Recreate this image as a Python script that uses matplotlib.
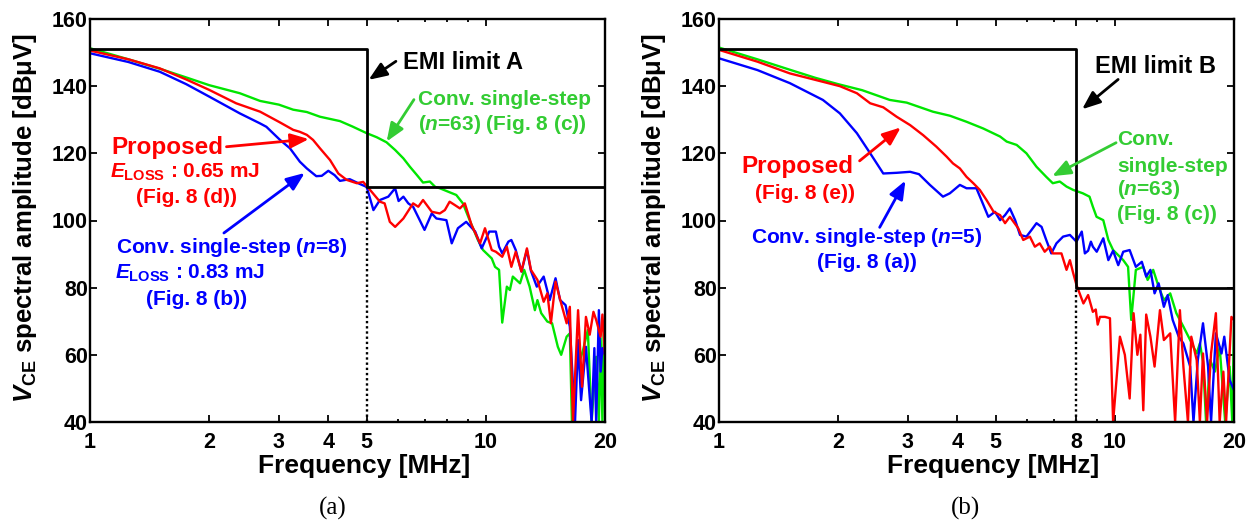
import matplotlib
matplotlib.use("Agg")
import matplotlib.pyplot as plt
from matplotlib.ticker import FixedLocator, NullFormatter

plt.rcParams['font.family'] = ['Liberation Sans', 'DejaVu Sans']
plt.rcParams['font.weight'] = 'bold'
plt.rcParams['mathtext.fontset'] = 'custom'
plt.rcParams['mathtext.rm'] = 'Liberation Sans:bold'
plt.rcParams['mathtext.it'] = 'Liberation Sans:italic:bold'
plt.rcParams['mathtext.bf'] = 'Liberation Sans:bold'

# ---- data: (frequency [MHz], amplitude [dBuV]) ----
green_a = [(1.0, 151.3), (1.25, 148.0), (1.5, 145.2), (1.75, 142.6), (2.0, 140.3), (2.39, 137.9),
           (2.69, 135.6), (3.0, 134.5), (3.26, 133.0), (3.53, 132.3), (3.81, 130.9), (4.28, 129.6),
           (4.6, 128.0), (5.0, 126.0), (5.3, 124.8), (5.61, 123.3), (5.9, 121.0), (6.19, 118.5),
           (6.43, 116.0), (6.7, 113.5), (6.94, 111.3), (7.22, 111.6), (7.45, 110.0), (7.65, 109.6),
           (8.1, 108.4), (8.42, 107.6), (8.75, 105.1), (9.1, 100.1), (9.55, 94.2), (9.84, 91.2),
           (10.35, 88.7), (10.55, 86.2), (10.8, 85.3), (11.0, 69.6), (11.3, 80.3), (11.5, 79.3),
           (11.7, 83.3), (12.2, 81.3), (12.5, 85.3), (12.9, 80.3), (13.3, 73.3), (13.5, 76.3),
           (13.8, 72.4), (14.3, 69.9), (14.7, 69.4), (15.2, 62.4), (15.5, 60.0), (16.0, 65.4),
           (16.3, 66.4), (16.5, 40.0), (16.9, 54.5), (17.6, 61.4), (18.1, 67.4), (18.5, 40.0),
           (19.0, 59.4), (19.3, 40.0), (19.5, 65.0), (19.7, 40.0), (19.85, 66.0), (20.0, 68.9)]

blue_a = [(1.0, 149.8), (1.25, 147.2), (1.5, 144.3), (1.75, 140.6), (2.0, 136.9), (2.39, 131.9),
          (2.69, 128.9), (2.79, 127.9), (3.02, 124.0), (3.2, 121.5), (3.39, 117.5), (3.53, 115.5),
          (3.73, 113.2), (3.85, 113.3), (4.0, 114.8), (4.15, 113.5), (4.28, 111.8), (4.53, 112.3),
          (4.8, 110.9), (5.0, 110.0), (5.2, 103.1), (5.4, 106.1), (5.67, 107.1), (5.9, 109.6),
          (6.02, 105.8), (6.19, 107.1), (6.37, 105.1), (6.55, 104.1), (7.0, 97.2), (7.3, 102.1),
          (7.5, 100.6), (7.95, 100.1), (8.2, 93.2), (8.5, 97.7), (8.92, 99.6), (9.4, 96.7),
          (9.76, 91.7), (10.2, 96.7), (10.6, 96.7), (10.8, 92.2), (11.0, 90.2), (11.4, 93.7),
          (11.6, 94.2), (11.9, 91.2), (12.3, 84.8), (12.7, 91.2), (13.0, 85.0), (13.45, 80.3),
          (14.0, 83.3), (14.5, 76.3), (15.0, 82.8), (15.4, 76.3), (15.9, 74.8), (16.3, 68.4),
          (16.8, 40.0), (17.1, 64.4), (17.4, 46.5), (17.9, 62.4), (18.5, 40.0), (18.8, 62.0),
          (19.0, 40.0), (19.3, 73.3), (19.5, 55.0), (19.7, 62.0), (20.0, 60.0)]

red_a = [(1.0, 150.6), (1.25, 148.0), (1.5, 145.3), (1.75, 142.0), (2.0, 138.9), (2.34, 134.9),
         (2.69, 132.4), (3.02, 129.2), (3.26, 127.0), (3.39, 126.4), (3.53, 125.5), (3.66, 124.0),
         (3.81, 121.5), (4.04, 118.0), (4.24, 114.0), (4.45, 112.1), (4.72, 111.1), (4.9, 111.5),
         (5.1, 109.1), (5.4, 105.6), (5.55, 105.1), (5.72, 99.6), (5.9, 98.1), (6.19, 100.6),
         (6.55, 105.1), (6.75, 104.1), (6.94, 106.1), (7.3, 102.6), (7.65, 102.1), (7.88, 103.1),
         (8.1, 105.6), (8.35, 104.6), (8.6, 103.6), (8.85, 105.1), (9.2, 98.7), (9.67, 93.2),
         (9.95, 97.7), (10.35, 91.2), (10.6, 90.7), (11.0, 89.2), (11.3, 92.2), (11.6, 86.2),
         (11.9, 90.7), (12.3, 84.8), (12.7, 91.7), (13.0, 85.3), (13.5, 82.3), (14.0, 75.8),
         (14.3, 78.3), (14.6, 69.4), (15.0, 81.8), (15.5, 75.3), (16.0, 69.4), (16.3, 74.3),
         (16.6, 40.0), (17.1, 73.3), (17.5, 50.5), (17.9, 71.3), (18.3, 66.0), (18.7, 72.8),
         (19.0, 70.4), (19.5, 65.4), (19.7, 72.0), (20.0, 60.0)]

green_b = [(1.0, 151.5), (1.25, 148.0), (1.5, 145.0), (1.75, 142.5), (2.0, 140.6), (2.3, 138.8),
           (2.7, 135.9), (2.98, 135.1), (3.28, 133.4), (3.47, 132.4), (3.83, 131.2), (4.22, 129.4),
           (4.65, 127.4), (5.13, 125.0), (5.33, 123.5), (5.65, 122.5), (5.98, 120.0), (6.34, 116.0),
           (6.71, 113.0), (6.97, 111.1), (7.26, 111.6), (7.55, 110.1), (7.85, 109.1), (8.3, 108.1),
           (8.63, 107.1), (8.8, 104.1), (8.99, 101.1), (9.35, 100.1), (9.63, 94.2), (9.9, 91.2),
           (10.5, 88.2), (10.8, 86.2), (11.0, 70.4), (11.3, 85.3), (11.8, 86.2), (12.1, 82.3),
           (12.5, 85.3), (12.9, 80.3), (13.3, 76.3), (13.8, 78.3), (14.3, 72.4), (14.9, 68.4),
           (15.5, 64.4), (16.1, 60.4), (16.4, 63.4), (16.7, 58.0), (17.0, 40.0), (17.4, 58.4),
           (17.9, 55.0), (18.4, 62.4), (19.0, 40.0), (19.5, 56.5), (19.8, 40.0), (20.0, 69.4)]

blue_b = [(1.0, 148.3), (1.25, 144.8), (1.51, 140.9), (1.83, 135.9), (2.02, 131.9), (2.23, 126.0),
          (2.41, 120.0), (2.6, 114.0), (2.81, 114.2), (3.04, 114.5), (3.2, 113.8), (3.41, 110.6),
          (3.68, 107.1), (3.83, 108.1), (4.06, 110.6), (4.22, 109.6), (4.47, 109.6), (4.6, 106.1),
          (4.79, 101.1), (4.98, 102.6), (5.13, 100.1), (5.28, 101.6), (5.43, 103.6), (5.6, 100.1),
          (5.76, 95.7), (5.98, 95.2), (6.16, 97.2), (6.34, 99.2), (6.53, 98.1), (6.71, 94.2),
          (6.91, 90.2), (7.12, 93.2), (7.4, 95.2), (7.7, 95.7), (8.0, 93.7), (8.25, 96.7),
          (8.4, 90.2), (8.56, 91.0), (8.7, 93.7), (8.8, 92.2), (9.0, 90.7), (9.35, 94.7),
          (9.63, 88.2), (9.9, 91.0), (10.2, 86.7), (10.5, 90.7), (10.9, 91.2), (11.3, 86.2),
          (11.7, 87.7), (12.0, 83.3), (12.3, 85.3), (12.6, 78.3), (12.9, 81.3), (13.3, 74.3),
          (13.6, 77.8), (14.0, 70.4), (14.5, 65.4), (14.9, 63.4), (15.5, 56.5), (15.8, 40.0),
          (16.2, 58.4), (16.7, 69.4), (17.2, 56.5), (17.5, 40.0), (18.0, 66.4), (18.6, 60.4),
          (18.9, 65.4), (19.5, 52.5), (20.0, 49.5)]

red_b = [(1.0, 150.8), (1.25, 147.3), (1.51, 143.8), (1.83, 141.3), (2.02, 140.0), (2.23, 137.9),
         (2.41, 134.9), (2.6, 133.7), (2.81, 130.9), (3.04, 128.4), (3.28, 125.4), (3.54, 122.0),
         (3.76, 119.0), (3.9, 117.0), (4.06, 115.5), (4.22, 113.0), (4.39, 111.1), (4.56, 109.1),
         (4.74, 106.1), (4.94, 102.6), (5.13, 101.6), (5.28, 99.2), (5.43, 101.1), (5.7, 97.7),
         (5.87, 94.2), (6.1, 95.2), (6.28, 92.2), (6.46, 93.2), (6.65, 90.7), (6.85, 92.2),
         (6.97, 90.2), (7.33, 90.2), (7.55, 85.3), (7.7, 88.2), (7.85, 84.3), (8.0, 80.8),
         (8.33, 75.3), (8.56, 77.8), (8.8, 72.8), (8.95, 73.5), (9.05, 69.0), (9.17, 71.3),
         (9.44, 71.3), (9.72, 70.9), (9.9, 40.0), (10.3, 65.4), (10.6, 60.0), (10.9, 47.0),
         (11.15, 72.4), (11.4, 60.0), (11.6, 66.0), (11.8, 43.5), (12.0, 72.0), (12.3, 65.4),
         (12.6, 56.5), (13.0, 73.3), (13.3, 64.4), (13.8, 66.4), (14.2, 40.0), (14.6, 73.3),
         (14.9, 56.5), (15.3, 40.0), (15.6, 65.4), (16.1, 58.4), (16.4, 40.0), (16.7, 60.4),
         (17.1, 40.0), (17.5, 60.4), (18.0, 72.4), (18.4, 40.0), (18.8, 55.0), (19.1, 40.0),
         (19.7, 71.3), (20.0, 70.4)]

# EMI limit masks: (corner frequency, upper level, lower level)
limit_a = (5, 151, 110)
limit_b = (8, 151, 80)

major_a = [1, 2, 3, 4, 5, 10, 20]
minor_a = [6, 7, 8, 9]
major_b = [1, 2, 3, 4, 5, 8, 10, 20]
minor_b = [6, 7, 9]
yticks = [40, 60, 80, 100, 120, 140, 160]

C_RED, C_BLUE, C_GREEN = '#ff0000', '#0000ff', '#00e600'
T_GREEN = '#33cc33'

fig = plt.figure(figsize=(12.47, 5.21), dpi=100)
axA = fig.add_axes([90 / 1247, 1 - 422 / 521, 515 / 1247, 403 / 521])
axB = fig.add_axes([719 / 1247, 1 - 422 / 521, 515 / 1247, 403 / 521])


def unzip(pts):
    return [p[0] for p in pts], [p[1] for p in pts]


def setup(ax, series, limit, major, minor):
    for pts, c in series:
        x, y = unzip(pts)
        ax.plot(x, y, color=c, lw=1.7, zorder=2)
    fc, hi, lo = limit
    ax.plot([1, fc, fc, 20], [hi, hi, lo, lo], color='k', lw=2.0, zorder=4)
    ax.plot([fc, fc], [40, lo], color='k', lw=1.7, ls=(0, (1, 1.2)), zorder=4)
    ax.set_xscale('log')
    ax.set_xlim(1, 20)
    ax.set_ylim(40, 160)
    ax.xaxis.set_major_locator(FixedLocator(major))
    ax.xaxis.set_minor_locator(FixedLocator(minor))
    ax.xaxis.set_minor_formatter(NullFormatter())
    ax.set_xticklabels([str(m) for m in major])
    ax.set_yticks(yticks)
    ax.tick_params(which='both', direction='in', top=True, right=True, width=1.3)
    ax.tick_params(which='major', length=5, labelsize=15.5)
    ax.tick_params(which='minor', length=2.5)
    ax.tick_params(axis='x', pad=7.5)
    ax.tick_params(axis='y', pad=1.5)
    for s in ax.spines.values():
        s.set_linewidth(1.7)
    for lab in ax.get_xticklabels() + ax.get_yticklabels():
        lab.set_fontweight('bold')
    ax.text(0.533, -0.108, 'Frequency [MHz]', transform=ax.transAxes, ha='center',
            va='center', fontsize=19, fontweight='bold')
    ax.text(-0.126, 0.506, r'$V_{\rm CE}$ spectral amplitude [dBμV]', transform=ax.transAxes,
            ha='center', va='center', rotation=90, fontsize=18.5, fontweight='bold')


def arrow(ax, tail, head, color):
    ax.annotate('', xy=head, xytext=tail, xycoords='axes fraction', textcoords='axes fraction',
                arrowprops=dict(arrowstyle='-|>,head_length=0.55,head_width=0.22', color=color,
                                lw=2, mutation_scale=20, shrinkA=0, shrinkB=0), zorder=5)


def label(ax, x, y, s, color, size=15, ha='center'):
    ax.text(x, y, s, transform=ax.transAxes, ha=ha, va='center', color=color,
            fontsize=size, fontweight='bold', zorder=6)


setup(axA, [(green_a, C_GREEN), (blue_a, C_BLUE), (red_a, C_RED)], limit_a, major_a, minor_a)
setup(axB, [(green_b, C_GREEN), (blue_b, C_BLUE), (red_b, C_RED)], limit_b, major_b, minor_b)

# panel (a) annotations
label(axA, 0.724, 0.893, 'EMI limit A', 'k', 17)
arrow(axA, (0.594, 0.895), (0.541, 0.849), 'k')
label(axA, 0.637, 0.801, 'Conv. single-step', T_GREEN, ha='left')
label(axA, 0.637, 0.737, '($n$=63) (Fig. 8 (c))', T_GREEN, ha='left')
arrow(axA, (0.629, 0.800), (0.576, 0.696), T_GREEN)
label(axA, 0.151, 0.682, 'Proposed', C_RED, 17.5)
label(axA, 0.184, 0.620, r'$E_{\rm LOSS}$ : 0.65 mJ', C_RED)
label(axA, 0.188, 0.558, '(Fig. 8 (d))', C_RED)
arrow(axA, (0.265, 0.683), (0.425, 0.702), C_RED)
label(axA, 0.276, 0.434, 'Conv. single-step ($n$=8)', C_BLUE)
label(axA, 0.194, 0.370, r'$E_{\rm LOSS}$ : 0.83 mJ', C_BLUE)
label(axA, 0.206, 0.303, '(Fig. 8 (b))', C_BLUE)
arrow(axA, (0.260, 0.469), (0.417, 0.618), C_BLUE)

# panel (b) annotations
label(axB, 0.848, 0.881, 'EMI limit B', 'k', 17)
arrow(axB, (0.775, 0.850), (0.705, 0.776), 'k')
label(axB, 0.773, 0.702, 'Conv.', T_GREEN, ha='left')
label(axB, 0.773, 0.635, 'single-step', T_GREEN, ha='left')
label(axB, 0.773, 0.576, '($n$=63)', T_GREEN, ha='left')
label(axB, 0.773, 0.516, '(Fig. 8 (c))', T_GREEN, ha='left')
arrow(axB, (0.771, 0.693), (0.647, 0.610), T_GREEN)
label(axB, 0.153, 0.633, 'Proposed', C_RED, 17.5)
label(axB, 0.167, 0.566, '(Fig. 8 (e))', C_RED)
arrow(axB, (0.273, 0.648), (0.353, 0.731), C_RED)
label(axB, 0.287, 0.457, 'Conv. single-step ($n$=5)', C_BLUE)
label(axB, 0.288, 0.395, '(Fig. 8 (a))', C_BLUE)
arrow(axB, (0.312, 0.483), (0.362, 0.599), C_BLUE)

fig.text(0.267, 0.025, '(a)', ha='center', va='center', fontsize=18,
         family='Liberation Serif', fontweight='normal')
fig.text(0.774, 0.025, '(b)', ha='center', va='center', fontsize=18,
         family='Liberation Serif', fontweight='normal')

fig.savefig('out.png', dpi=100)
